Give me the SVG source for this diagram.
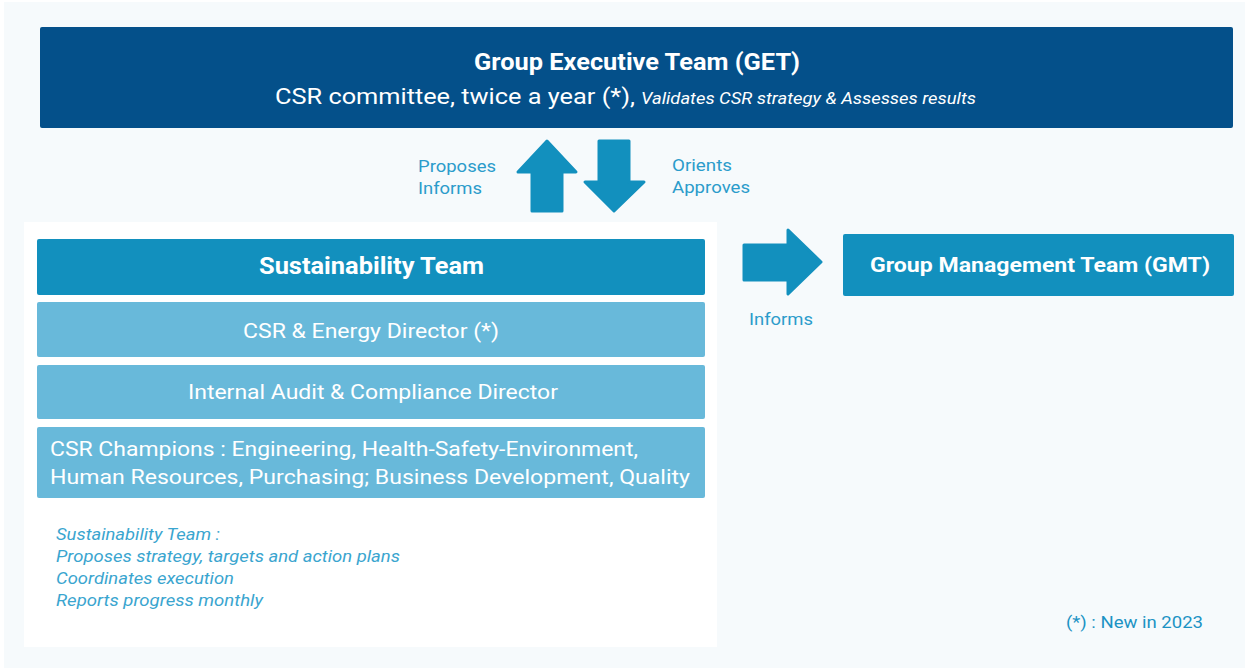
<svg xmlns="http://www.w3.org/2000/svg" width="1250" height="668" viewBox="0 0 1250 668">
<style>
text{font-family:Roboto,"Liberation Sans",sans-serif}
.w{fill:#fff}
.b{font-weight:bold}
.lbl{fill:#2b9ccb;font-size:17px}
.note{fill:#3aa5cf;font-size:17px;font-style:italic}
.dark{fill:#04508a}
.mid{fill:#1290be}
.light{fill:#68b9da}
.arrow{fill:#1290be;stroke:#1290be;stroke-width:3;stroke-linejoin:round}
</style>
<rect x="0" y="0" width="1250" height="668" fill="#ffffff"/>
<rect x="4" y="2" width="1241" height="666" fill="#f6fafc"/>
<rect x="24" y="222" width="693" height="425" fill="#ffffff"/>
<g id="get">
<rect class="dark" x="40" y="27" width="1193" height="101" rx="2"/>
<text class="w b" x="474" y="70" font-size="23" textLength="326" lengthAdjust="spacingAndGlyphs">Group Executive Team (GET)</text>
<text class="w" x="275" y="104" font-size="22" textLength="360" lengthAdjust="spacingAndGlyphs">CSR committee, twice a year (*),</text>
<text class="w" x="641" y="104" font-size="16" font-style="italic" textLength="335" lengthAdjust="spacingAndGlyphs">Validates CSR strategy &amp; Assesses results</text>
</g>
<g id="sustainability">
<rect class="mid" x="37" y="239" width="668" height="56" rx="2"/>
<text class="w b" x="259" y="274" font-size="23" textLength="225" lengthAdjust="spacingAndGlyphs">Sustainability Team</text>
</g>
<g id="csr-director">
<rect class="light" x="37" y="302" width="668" height="55" rx="2"/>
<text class="w" x="243" y="338" font-size="21" textLength="256" lengthAdjust="spacingAndGlyphs">CSR &amp; Energy Director (*)</text>
</g>
<g id="audit">
<rect class="light" x="37" y="365" width="668" height="54" rx="2"/>
<text class="w" x="188" y="399" font-size="21" textLength="370" lengthAdjust="spacingAndGlyphs">Internal Audit &amp; Compliance Director</text>
</g>
<g id="champions">
<rect class="light" x="37" y="427" width="668" height="71" rx="2"/>
<text class="w" x="50" y="456" font-size="21" textLength="588" lengthAdjust="spacingAndGlyphs">CSR Champions : Engineering, Health-Safety-Environment,</text>
<text class="w" x="50" y="484" font-size="21" textLength="640" lengthAdjust="spacingAndGlyphs">Human Resources, Purchasing; Business Development, Quality</text>
</g>
<g id="notes">
<text class="note" x="56" y="540" textLength="164" lengthAdjust="spacingAndGlyphs">Sustainability Team :</text>
<text class="note" x="56" y="562" textLength="344" lengthAdjust="spacingAndGlyphs">Proposes strategy, targets and action plans</text>
<text class="note" x="56" y="584" textLength="178" lengthAdjust="spacingAndGlyphs">Coordinates execution</text>
<text class="note" x="56" y="606" textLength="207" lengthAdjust="spacingAndGlyphs">Reports progress monthly</text>
</g>
<g id="gmt">
<rect class="mid" x="843" y="234" width="391" height="62" rx="2"/>
<text class="w b" x="870" y="272" font-size="21" textLength="340" lengthAdjust="spacingAndGlyphs">Group Management Team (GMT)</text>
</g>
<g id="footnote">
<text x="1066" y="628" font-size="17" fill="#1c93c4" textLength="137" lengthAdjust="spacingAndGlyphs">(*) : New in 2023</text>
</g>
<g id="connectors">
<path class="arrow" d="M547,141 L576,172 L562,172 L562,211 L532,211 L532,172 L518,172 Z"/>
<path class="arrow" d="M599,141 L629,141 L629,182 L644,182 L614,211 L585,182 L599,182 Z"/>
<path class="arrow" d="M744,245 L788,245 L788,230 L821,262 L788,294 L788,280 L744,280 Z"/>
<text class="lbl" x="418" y="172" textLength="78" lengthAdjust="spacingAndGlyphs">Proposes</text>
<text class="lbl" x="418" y="194" textLength="64" lengthAdjust="spacingAndGlyphs">Informs</text>
<text class="lbl" x="672" y="171" textLength="60" lengthAdjust="spacingAndGlyphs">Orients</text>
<text class="lbl" x="672" y="193" textLength="78" lengthAdjust="spacingAndGlyphs">Approves</text>
<text class="lbl" x="749" y="325" textLength="64" lengthAdjust="spacingAndGlyphs">Informs</text>
</g>
</svg>
